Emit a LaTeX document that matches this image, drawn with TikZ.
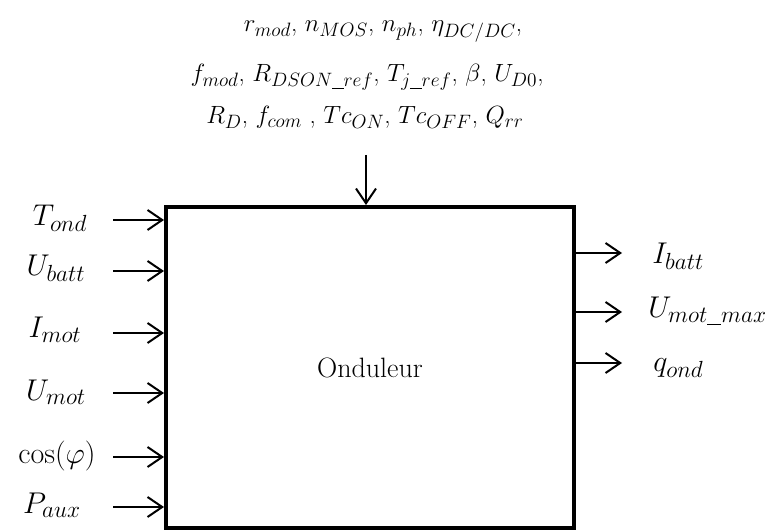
\RequirePackage{fix-cm}
\documentclass[tikz,border=0pt]{standalone}
\usepackage{fontspec}
\usetikzlibrary{arrows.meta}
\DeclareMathSizes{18.7}{18.7}{14.5}{11}
\DeclareMathSizes{22.5}{22.5}{17.5}{13}
\DeclareMathSizes{21}{21}{16}{12}
\newcommand{\usc}{\underline{\phantom{n}}}
\begin{document}
\begin{tikzpicture}[x=0.75pt,y=-0.75pt,
  every node/.style={font=\fontsize{21}{25}\selectfont, inner sep=0pt},
  arr/.style={line width=1.5pt,-{Straight Barb[length=11pt,width=15pt,line width=1.5pt]}},
  toplbl/.style={anchor=base, font=\fontsize{18.7}{22}\selectfont},
  lbl/.style={anchor=base, font=\fontsize{22.5}{26}\selectfont},
  rlbl/.style={anchor=base west, font=\fontsize{22.5}{26}\selectfont},
  blockbox/.style={draw, line width=3pt, minimum width=306pt, minimum height=240.75pt}]
\useasboundingbox (0,0) rectangle (772,531);
% main block
\node[blockbox] (ond) at (370,367.5) {Onduleur};
% top parameters
\node[toplbl] (p1) at (383,32) {$r_{mod}$, $n_{MOS}$, $n_{ph}$, $\eta_{DC/DC}$,};
\node[toplbl] (p2) at (367,82) {$f_{mod}$, $R_{DSON\usc ref}$, $T_{j\usc ref}$, $\beta$, $U_{D0}$,};
\node[toplbl] (p3) at (365,124) {$R_{D}$, $f_{com}$ , $Tc_{ON}$, $Tc_{OFF}$, $Q_{rr}$};
\coordinate (tp) at (366,155);
\draw[arr] (tp) -- (tp |- ond.north);
% inputs
\node[lbl] (i1) at (60,226) {$T_{ond}$};
\node[lbl] (i2) at (56,276) {$U_{batt}$};
\node[lbl] (i3) at (55,338) {$I_{mot}$};
\node[lbl] (i4) at (56,400) {$U_{mot}$};
\node[lbl] (i5) at (57,463) {$\cos(\varphi)$};
\node[lbl] (i6) at (52,513) {$P_{aux}$};
\coordinate (a1) at (113,220);
\coordinate (a2) at (113,271);
\coordinate (a3) at (113,333);
\coordinate (a4) at (113,393);
\coordinate (a5) at (113,457);
\coordinate (a6) at (113,507);
\foreach \k in {1,...,6} {\draw[arr] (a\k) -- (a\k -| ond.west);}
% outputs
\node[rlbl] (o1) at (652,264) {$I_{batt}$};
\node[rlbl] (o2) at (648,318) {$U_{mot\usc max}$};
\node[rlbl] (o3) at (653,372) {$q_{ond}$};
\coordinate (b1) at (622,253);
\coordinate (b2) at (622,312);
\coordinate (b3) at (622,363);
\foreach \k in {1,2,3} {\draw[arr] (b\k -| ond.east) -- (b\k);}
\end{tikzpicture}
\end{document}
